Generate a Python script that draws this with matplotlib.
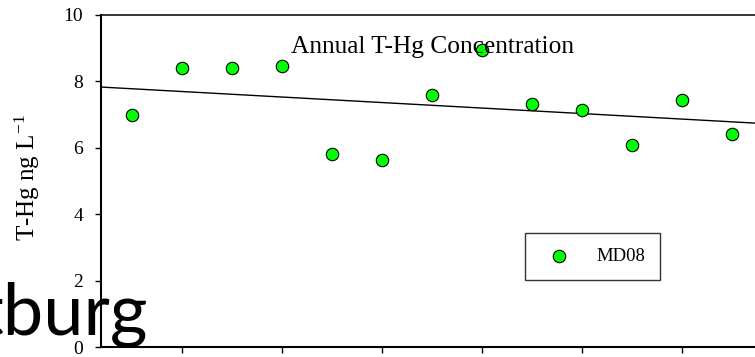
import numpy as np
import matplotlib
matplotlib.use("Agg")
import matplotlib.pyplot as plt

plt.rcParams['font.family'] = ['Liberation Serif', 'DejaVu Serif']
plt.rcParams['mathtext.default'] = 'regular'

years = [1999, 2000, 2001, 2002, 2003, 2004, 2005, 2006, 2007, 2008, 2009, 2010, 2011]
thg = [6.98, 8.39, 8.39, 8.47, 5.81, 5.62, 7.59, 8.95, 7.30, 7.13, 6.07, 7.44, 6.42]
xticks = [2000, 2002, 2004, 2006, 2008, 2010]
yticks = [0, 2, 4, 6, 8, 10]
series_name = "MD08"
title = "Annual T-Hg Concentration"
ylabel = "T-Hg ng L$^{-1}$"
overlay = "tburg"

W, H = 755, 357
fig = plt.figure(figsize=(W / 100, H / 100), dpi=100)
ax = fig.add_axes([101 / W, 10 / H, (782 - 101) / W, (347 - 14.7) / H])

x = np.array(years, dtype=float)
y = np.array(thg)
ax.scatter(x, y, s=80, c='#00FF00', edgecolors='black', linewidths=0.8,
           zorder=3, label=series_name)

xl = (1998.386, 2012.0)
coef = np.polyfit(x, y, 1)
xx = np.array(xl)
ax.plot(xx, np.polyval(coef, xx), color='black', lw=1.0, zorder=2)

ax.set_xlim(*xl)
ax.set_ylim(0, 10)
ax.set_xticks(xticks)
ax.set_xticklabels([])
ax.set_yticks(yticks)
ax.tick_params(axis='y', direction='out', length=4.3, width=1.0, pad=8.5,
               labelsize=14)
ax.tick_params(axis='x', direction='out', length=4.3, width=1.0)
for s in ['left', 'bottom']:
    ax.spines[s].set_linewidth(1.5)
for s in ['top', 'right']:
    ax.spines[s].set_linewidth(1.1)

fig.text(433 / W, 1 - 52.7 / H, title, ha='center', va='baseline', fontsize=18.3)
fig.text(27 / W, 1 - 178 / H, ylabel, ha='center', va='center', rotation=90,
         fontsize=18)

leg = ax.legend(loc='center', bbox_to_anchor=(592.5 / W, 1 - 256.4 / H),
                bbox_transform=fig.transFigure, fontsize=13.5, frameon=True,
                fancybox=False, borderpad=0.8, handletextpad=1.0,
                borderaxespad=0, scatterpoints=1)
leg.get_frame().set_edgecolor('black')
leg.get_frame().set_linewidth(1.0)

fig.text(148 / W, 1 - 335 / H, overlay, ha='right', va='baseline',
         fontsize=52, family=['Lato', 'DejaVu Sans'], color='black', zorder=10)

fig.savefig('out.png', dpi=100)
